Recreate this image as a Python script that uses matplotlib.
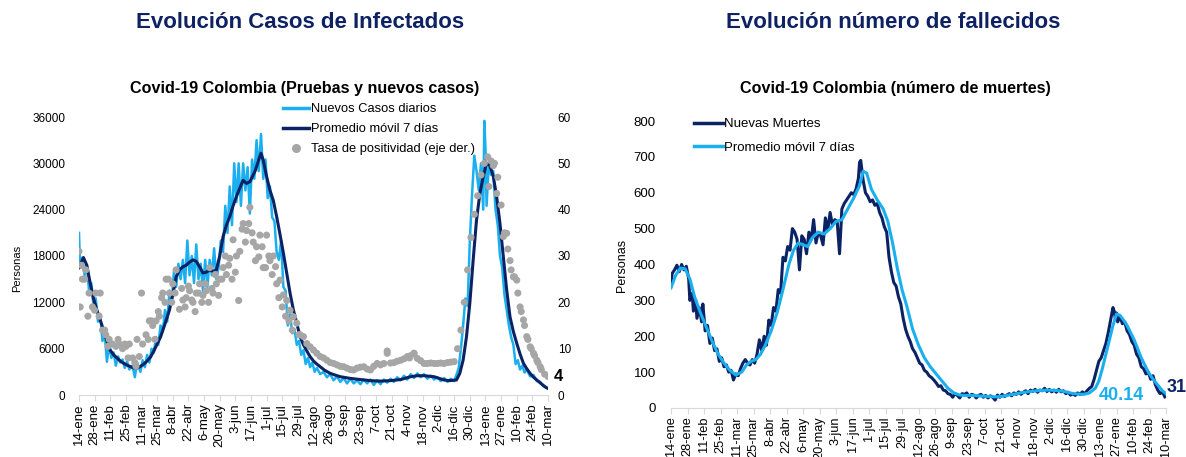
import matplotlib
matplotlib.use('Agg')
import matplotlib.pyplot as plt
import matplotlib.transforms as mtransforms
from matplotlib.lines import Line2D

plt.rcParams['font.family'] = ['Liberation Sans', 'DejaVu Sans']

# ---------------- DATA ----------------
# x axis: days since 14-ene-2021 (ticks every 14 days)
etiquetas_x = ['14-ene', '28-ene', '11-feb', '25-feb', '11-mar', '25-mar', '8-abr', '22-abr',
               '6-may', '20-may', '3-jun', '17-jun', '1-jul', '15-jul', '29-jul', '12-ago',
               '26-ago', '9-sep', '23-sep', '7-oct', '21-oct', '4-nov', '18-nov', '2-dic',
               '16-dic', '30-dic', '13-ene', '27-ene', '10-feb', '24-feb', '10-mar']

# Nuevos casos diarios (day, value)
casos_dias = [0, 1, 3, 5, 7, 9, 11, 13, 15, 17, 19, 21, 23, 25, 27, 29, 31, 33, 35, 37, 39, 41, 43, 45,
              48, 50, 52, 55, 57, 59, 61, 63, 65, 67, 69, 71, 73, 75, 77, 79, 81, 83, 85, 87, 89, 91,
              93, 95, 97, 99, 101, 103, 105, 107, 109, 111, 113, 115, 117, 119, 121, 123, 125, 127,
              129, 131, 133, 135, 137, 139, 141, 143, 145, 147, 149, 151, 153, 155, 157, 159, 161,
              163, 165, 167, 169, 171, 173, 175, 177, 179, 181, 183, 185, 187, 189, 191, 193, 195,
              197, 199, 201, 203, 205, 207, 209, 211, 213, 216, 219, 222, 225, 228, 231, 234, 237,
              240, 243, 246, 249, 252, 255, 258, 261, 264, 267, 270, 273, 276, 279, 282, 285, 288,
              291, 294, 297, 300, 303, 306, 309, 312, 315, 318, 321, 324, 327, 330, 333, 336, 338,
              340, 342, 344, 346, 348, 350, 352, 354, 356, 358, 360, 362, 363, 364, 365, 367, 369,
              371, 373, 375, 377, 379, 381, 383, 385, 387, 389, 391, 393, 395, 397, 399, 401, 404,
              407, 410, 413, 416, 419]
casos_diarios = [21000, 16500, 17800, 15500, 16800, 13500, 14500, 11500, 12500, 9500, 10500, 7000,
                 8000, 4300, 6500, 4800, 5500, 3800, 5000, 4200, 4600, 3500, 4400, 3300, 3800, 2300,
                 4200, 3000, 4500, 3600, 5200, 4200, 6000, 5500, 7500, 6500, 9000, 8200, 11000, 9500,
                 13500, 12000, 16000, 14000, 17000, 15000, 17500, 14500, 20000, 15500, 18000, 14500,
                 19500, 15000, 17000, 13500, 17500, 14000, 17500, 15500, 19000, 15000, 16500, 20000,
                 18500, 24500, 21000, 27000, 22000, 30000, 25000, 30000, 24500, 30000, 26500, 29500,
                 23500, 30500, 28000, 33000, 29000, 33800, 28000, 30500, 25500, 27000, 23000, 22500,
                 18500, 17500, 20000, 14000, 13500, 9000, 10500, 8000, 8500, 6500, 7000, 5200, 5800,
                 4000, 4800, 3600, 4200, 3000, 3500, 2700, 3000, 2300, 2700, 1900, 2400, 1700, 2200,
                 1500, 2100, 1500, 1900, 1400, 2000, 1500, 2000, 1300, 1900, 1400, 2000, 1600, 2100,
                 1700, 2300, 1900, 2500, 2000, 2700, 2200, 2800, 2300, 2700, 2100, 2500, 2000, 2300,
                 1800, 2200, 1700, 2100, 1800, 2600, 3500, 6000, 9000, 12500, 11500, 20000, 26000,
                 31000, 29000, 26500, 30000, 24000, 35500, 32000, 24500, 30000, 28500, 29000, 24000,
                 22000, 18000, 16500, 13000, 11000, 9000, 7500, 6500, 4000, 4500, 3300, 3800, 2900,
                 3300, 2400, 2600, 1800, 1700, 1100, 900]

# Promedio movil 7 dias (casos)
ma_dias = [0, 4, 7, 10, 13, 16, 19, 22, 25, 28, 31, 34, 37, 40, 44, 49, 52, 55, 58, 61, 64, 67, 70,
           73, 77, 81, 84, 87, 90, 93, 96, 99, 102, 105, 108, 111, 114, 117, 120, 123, 126, 129, 132,
           135, 138, 141, 144, 147, 150, 153, 156, 158, 161, 163, 165, 168, 171, 174, 177, 180, 183,
           186, 189, 192, 195, 198, 201, 204, 207, 210, 213, 216, 220, 225, 230, 234, 243, 252, 261,
           270, 279, 288, 297, 303, 309, 318, 327, 332, 338, 341, 344, 347, 350, 353, 356, 359, 362,
           365, 368, 371, 374, 377, 380, 383, 386, 389, 392, 395, 398, 401, 404, 407, 410, 414, 418,
           420]
casos_ma = [16500, 17800, 16800, 14500, 12500, 11000, 9700, 8400, 7000, 5800, 5200, 4800, 4400, 4100,
            3800, 3500, 3500, 3700, 4000, 4400, 4900, 5700, 6600, 7500, 9200, 11000, 13000, 15300,
            16200, 16600, 16800, 17200, 17500, 17300, 16600, 15800, 15900, 16200, 16000, 16200,
            18000, 20500, 22000, 23100, 24500, 25700, 26800, 27800, 27400, 27600, 28500, 29100,
            30500, 31300, 30400, 28300, 26500, 25200, 23100, 20800, 18400, 15800, 13200, 11000,
            9300, 7550, 6500, 5700, 4960, 4400, 4000, 3660, 3200, 2800, 2550, 2370, 2150, 2000, 1860,
            1800, 1860, 2000, 2370, 2500, 2500, 2370, 1940, 1860, 1940, 2800, 4530, 7550, 11900,
            17500, 22700, 26100, 28300, 30000, 29700, 28300, 25700, 22200, 17900, 13600, 10100, 8200,
            6700, 5300, 4100, 3400, 2800, 2300, 1940, 1450, 1000, 850]

# Tasa de positividad (%), one reading every 3 days from 14-ene
positividad = [31, 25, 27, 22, 19, 22, 17, 14, 13, 12,
               11, 10.5, 11, 10, 10.5, 11, 8, 6.2, 8.3, 11,
               13, 16, 15, 16, 17, 22, 25, 22, 24, 27,
               18.5, 20.5, 21, 22.5, 20, 22, 24, 21.5, 22.5, 27.5,
               22, 24, 25, 27.5, 26, 29.5, 33.5, 30, 31, 37,
               35.5, 40.5, 33, 32, 34.5, 27.5, 34.5, 29, 30, 24,
               24.8, 21.6, 20.4, 18.3, 16.9, 15.5, 13, 12.6, 11.1, 10.4,
               9.7, 9, 8.3, 8, 7.5, 7, 6.8, 6.5, 6.2, 6.1,
               5.8, 5.5, 5.4, 5.8, 6, 6.1, 5.6, 5.4, 6.2, 6.8,
               6.5, 6.8, 9, 6.9, 7, 7.3, 7.5, 7.8, 8.3, 8.5,
               9, 7.9, 7.4, 6.8, 6.8, 6.9, 6.8, 6.8, 6.9, 6.8,
               7, 7.1, 7.2, 10, 14, 20, 27, 34, 39, 43,
               47.5, 50, 51.4, 50.5, 50, 47, 41, 35, 31.5, 27,
               25.5, 22, 18, 15, 12, 10, 8.5, 7, 5.5, 4.5,
               4]
# additional daily readings of the positivity rate (day, value)
pos_extra_dias = [1, 2, 5, 8, 14, 19, 23, 26, 35, 41, 44, 50, 52, 56, 62, 65, 68, 71, 74, 77, 80, 83,
                  86, 92, 95, 98, 101, 104, 107, 110, 113, 116, 119, 122, 125, 128, 131, 134, 137,
                  140, 143, 146, 149, 152, 155, 158, 161, 164, 167, 170, 173, 176, 179, 182, 185,
                  188, 191, 197, 276, 296, 300, 367, 371, 374, 380, 383, 386, 389, 392, 395, 398,
                  401, 404, 407, 410, 413]
pos_extra = [19, 28, 25, 17, 18.3, 22, 14, 10.5, 12, 11, 8, 7, 12, 22, 12, 16, 12, 18, 21, 20, 25,
             20, 22, 23, 19, 23.5, 20.5, 18, 22, 20, 24, 20, 23, 26, 21.5, 25, 30, 28, 25, 26.5,
             20.4, 35.8, 33, 37, 35, 29, 29.8, 32, 27.5, 30, 26, 27.7, 21, 19, 17, 16, 14, 13, 9.5,
             8, 9, 45, 49.5, 43.5, 34.2, 34.9, 29, 25.5, 24.8, 19, 16.2, 12.6, 10.4, 9, 7.5, 6.1]

# Nuevas muertes (day, value)
muertes_dias = [0, 1, 3, 5, 7, 9, 11, 13, 15, 16, 18, 19, 21, 22, 24, 26, 27, 29, 31, 33, 35, 37, 39,
                41, 43, 45, 47, 49, 51, 53, 55, 57, 59, 61, 63, 65, 67, 69, 71, 73, 75, 77, 79, 81,
                83, 85, 87, 89, 91, 93, 95, 97, 99, 101, 103, 105, 107, 109, 111, 113, 115, 117, 119,
                121, 123, 125, 127, 129, 131, 133, 135, 137, 139, 141, 143, 145, 147, 149, 151, 153,
                155, 157, 159, 160, 161, 163, 165, 167, 169, 171, 173, 175, 177, 179, 181, 183, 185,
                187, 189, 191, 193, 195, 197, 199, 201, 203, 205, 207, 209, 211, 213, 215, 217, 219,
                221, 223, 225, 227, 229, 231, 233, 235, 237, 239, 241, 243, 245, 247, 249, 251, 253,
                255, 257, 259, 261, 263, 265, 267, 269, 271, 273, 275, 277, 279, 281, 283, 285, 287,
                289, 291, 293, 295, 297, 299, 301, 303, 305, 307, 309, 311, 313, 315, 317, 319, 321,
                323, 325, 327, 329, 331, 333, 335, 337, 339, 341, 343, 345, 347, 349, 351, 353, 355,
                357, 359, 361, 363, 365, 367, 369, 371, 373, 375, 376, 377, 378, 379, 381, 383, 385,
                387, 389, 391, 393, 395, 397, 399, 401, 403, 405, 407, 409, 411, 413, 415, 417, 419]
muertes = [340, 375, 385, 398, 380, 400, 385, 395, 360, 300, 320, 270, 300, 250, 280, 240, 290, 215,
           230, 180, 195, 160, 165, 130, 140, 115, 120, 100, 105, 78, 95, 90, 110, 125, 135, 125,
           120, 135, 125, 150, 190, 160, 200, 175, 245, 230, 280, 270, 330, 320, 420, 410, 450, 440,
           500, 490, 470, 385, 480, 470, 430, 490, 470, 525, 460, 490, 480, 455, 530, 495, 545, 510,
           525, 520, 430, 555, 570, 580, 590, 600, 595, 610, 640, 685, 690, 635, 600, 590, 575, 580,
           565, 570, 545, 530, 505, 490, 420, 380, 350, 340, 310, 290, 250, 220, 200, 185, 165, 155,
           140, 125, 120, 105, 100, 90, 85, 78, 70, 60, 62, 50, 48, 40, 38, 30, 40, 35, 28, 40, 38,
           42, 30, 38, 36, 28, 35, 38, 30, 35, 28, 34, 30, 22, 36, 30, 38, 32, 36, 40, 34, 42, 38,
           45, 38, 44, 48, 40, 50, 46, 52, 44, 50, 48, 55, 46, 52, 45, 50, 44, 52, 45, 48, 40, 44,
           36, 40, 35, 42, 38, 45, 40, 48, 55, 60, 80, 105, 130, 140, 160, 180, 210, 245, 280, 270,
           250, 265, 240, 255, 235, 240, 215, 205, 185, 175, 150, 140, 115, 110, 95, 100, 80, 90, 65,
           50, 40, 45, 31]

# Promedio movil 7 dias (muertes)
muertes_ma_dias = [0, 4, 8, 12, 16, 20, 25, 30, 35, 40, 45, 50, 55, 60, 64, 68, 72, 76, 80, 85, 90, 95,
                   100, 104, 108, 112, 116, 120, 125, 130, 135, 140, 145, 150, 155, 160, 163, 166, 170,
                   175, 180, 184, 188, 192, 196, 200, 205, 210, 215, 220, 225, 230, 235, 240, 245, 250,
                   255, 260, 265, 270, 275, 280, 285, 290, 295, 300, 305, 310, 315, 320, 325, 330, 335,
                   340, 345, 350, 355, 360, 363, 366, 369, 372, 375, 378, 381, 384, 387, 390, 393, 396,
                   399, 402, 405, 408, 411, 414, 417, 420]
muertes_ma = [335, 370, 390, 388, 360, 310, 265, 225, 185, 150, 125, 105, 92, 100, 120, 130, 135, 150,
              175, 215, 265, 330, 400, 440, 460, 455, 450, 475, 490, 485, 500, 520, 525, 555, 585, 620,
              660, 655, 610, 580, 555, 520, 460, 390, 330, 285, 220, 175, 140, 115, 95, 75, 55, 42, 36,
              35, 35, 34, 33, 32, 31, 32, 35, 38, 41, 44, 46, 48, 49, 50, 49, 48, 45, 41, 39, 38, 42,
              55, 75, 110, 150, 190, 230, 262, 258, 245, 230, 210, 190, 165, 140, 120, 100, 85, 72, 60,
              48, 40]

# ---------------- STYLE ----------------
AZUL_CLARO = '#1AAFEF'
AZUL_OSCURO = '#0B2265'
GRIS = '#A6A6A6'
TITULO = '#0E2163'
W, H = 1186, 457

fig = plt.figure(figsize=(W / 100, H / 100), dpi=100)

def fx(px):
    return px / W

def fy(py):
    return 1 - py / H

ticks_x = [14 * i for i in range(len(etiquetas_x))]

# ---------------- LEFT CHART ----------------
ax1 = fig.add_axes([fx(79), fy(395), fx(548) - fx(79), fy(117) - fy(395)])
ax1.plot(casos_dias, casos_diarios, color=AZUL_CLARO, lw=1.8, zorder=2)
ax1.plot(ma_dias, casos_ma, color=AZUL_OSCURO, lw=2.2, zorder=3)
ax1.set_xlim(0, 420)
ax1.set_ylim(0, 36000)
ax1.set_yticks(range(0, 36001, 6000))
ax1.set_xticks(ticks_x)
ax1.set_xticklabels(etiquetas_x, rotation=90, fontsize=9.5)
ax1.tick_params(axis='y', length=0, labelsize=8.5, pad=10)
ax1.tick_params(axis='x', length=4, color='#D9D9D9', pad=2)
for s in ['top', 'right', 'left']:
    ax1.spines[s].set_visible(False)
ax1.spines['bottom'].set_color('#D9D9D9')
ax1.set_ylabel('Personas', fontsize=8)
ax1.yaxis.set_label_coords(-(79 - 22) / (548 - 79), (395 - 268) / 278)

ax2 = ax1.twinx()
pos_dias = [3 * i for i in range(len(positividad))]
ax2.scatter(pos_dias, positividad, s=26, color=GRIS, edgecolors='none', zorder=4)
ax2.scatter(pos_extra_dias, pos_extra, s=26, color=GRIS, edgecolors='none', zorder=4)
ax2.set_ylim(0, 60)
ax2.set_xlim(0, 420)
ax2.set_yticks(range(0, 61, 10))
ax2.tick_params(axis='y', length=0, labelsize=8.5, pad=7)
for s in ['top', 'right', 'left', 'bottom']:
    ax2.spines[s].set_visible(False)
trans = mtransforms.blended_transform_factory(ax2.transAxes, ax2.transData)
ax2.text(1.012, 4, '4', transform=trans, fontsize=12, fontweight='bold', va='center', ha='left')

h1 = [Line2D([], [], color=AZUL_CLARO, lw=2.5),
      Line2D([], [], color=AZUL_OSCURO, lw=2.5),
      Line2D([], [], color=GRIS, marker='o', ls='none', markersize=5.5)]
fig.legend(h1, ['Nuevos Casos diarios', 'Promedio móvil 7 días', 'Tasa de positividad (eje der.)'],
           loc='upper left', bbox_to_anchor=(fx(283), fy(103)), frameon=False, fontsize=9.3,
           handlelength=2.0, handletextpad=0.15, labelspacing=0.62, borderaxespad=0, borderpad=0)

# ---------------- RIGHT CHART ----------------
ax3 = fig.add_axes([fx(671), fy(408), fx(1166) - fx(671), fy(121) - fy(408)])
ax3.plot(muertes_dias, muertes, color=AZUL_OSCURO, lw=2.2, zorder=2)
ax3.plot(muertes_ma_dias, muertes_ma, color=AZUL_CLARO, lw=2.2, zorder=3)
ax3.set_xlim(0, 420)
ax3.set_ylim(0, 800)
ax3.set_yticks(range(0, 801, 100))
ax3.set_xticks(ticks_x)
ax3.set_xticklabels(etiquetas_x, rotation=90, fontsize=9.2)
ax3.tick_params(axis='y', length=0, labelsize=9.5, pad=11)
ax3.tick_params(axis='x', length=4, color='#D9D9D9', pad=2)
for s in ['top', 'right', 'left']:
    ax3.spines[s].set_visible(False)
ax3.spines['bottom'].set_color('#D9D9D9')
ax3.set_ylabel('Personas', fontsize=9)
ax3.yaxis.set_label_coords(-(671 - 628) / (1166 - 671), (408 - 265) / 287)
ax3.text(382, 36, '40.14', color=AZUL_CLARO, fontsize=13, fontweight='bold', ha='center', va='center')
ax3.text(429, 58, '31', color=AZUL_OSCURO, fontsize=13, fontweight='bold', ha='center', va='center',
         clip_on=False)

h2 = [Line2D([], [], color=AZUL_OSCURO, lw=2.5), Line2D([], [], color=AZUL_CLARO, lw=2.5)]
fig.legend(h2, ['Nuevas Muertes', 'Promedio móvil 7 días'],
           loc='upper left', bbox_to_anchor=(fx(694), fy(118)), frameon=False, fontsize=9.5,
           handlelength=2.2, handletextpad=0.1, labelspacing=0.85, borderaxespad=0, borderpad=0)

# ---------------- TITLES ----------------
fig.text(fx(300), fy(22), 'Evolución Casos de Infectados', ha='center', va='center', fontsize=16,
         fontweight='bold', color=TITULO)
fig.text(fx(893), fy(22), 'Evolución número de fallecidos', ha='center', va='center', fontsize=16,
         fontweight='bold', color=TITULO)
fig.text(fx(305), fy(88), 'Covid-19 Colombia (Pruebas y nuevos casos)', ha='center', va='center',
         fontsize=11.6, fontweight='bold')
fig.text(fx(895), fy(88), 'Covid-19 Colombia (número de muertes)', ha='center', va='center',
         fontsize=11.6, fontweight='bold')

fig.savefig('out.png', dpi=100)
